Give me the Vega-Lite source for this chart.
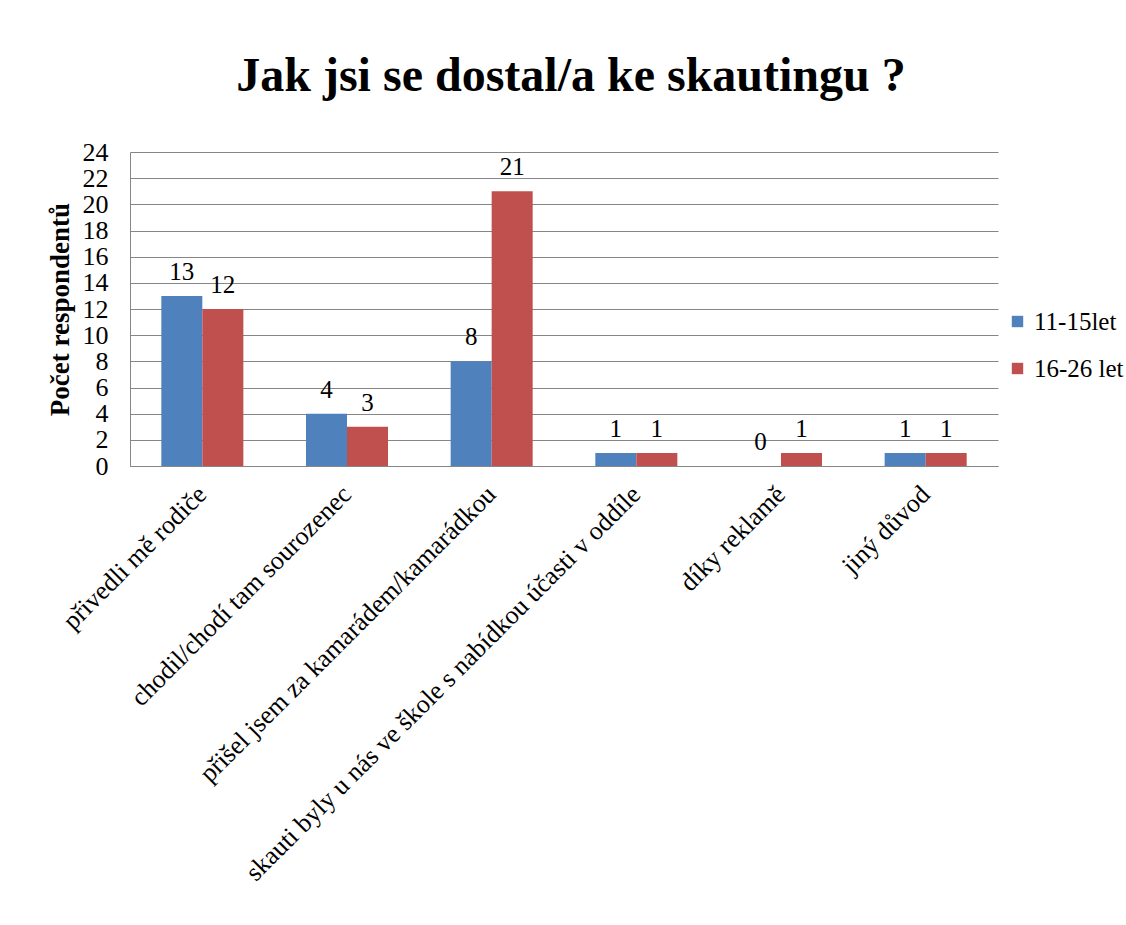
{
  "$schema": "https://vega.github.io/schema/vega-lite/v6.json",
  "width": 868,
  "height": 314,
  "autosize": {"type": "none"},
  "padding": {"left": 130, "top": 152, "right": 128, "bottom": 459},
  "background": "white",
  "config": {
    "view": {"stroke": null},
    "font": "Liberation Serif",
    "text": {"font": "Liberation Serif"}
  },
  "title": {
    "text": "Jak jsi se dostal/a ke skautingu ?",
    "font": "Liberation Serif",
    "fontSize": 48,
    "fontWeight": "bold",
    "color": "black",
    "anchor": "middle",
    "dx": 7,
    "offset": 38
  },
  "data": {
    "values": [
      {"kat": "přivedli mě rodiče", "skupina": "11-15let", "pocet": 13},
      {"kat": "přivedli mě rodiče", "skupina": "16-26 let", "pocet": 12},
      {"kat": "chodil/chodí tam sourozenec", "skupina": "11-15let", "pocet": 4},
      {"kat": "chodil/chodí tam sourozenec", "skupina": "16-26 let", "pocet": 3},
      {"kat": "přišel jsem za kamarádem/kamarádkou", "skupina": "11-15let", "pocet": 8},
      {"kat": "přišel jsem za kamarádem/kamarádkou", "skupina": "16-26 let", "pocet": 21},
      {"kat": "skauti byly u nás ve škole s nabídkou účasti v oddíle", "skupina": "11-15let", "pocet": 1},
      {"kat": "skauti byly u nás ve škole s nabídkou účasti v oddíle", "skupina": "16-26 let", "pocet": 1},
      {"kat": "díky reklamě", "skupina": "11-15let", "pocet": 0},
      {"kat": "díky reklamě", "skupina": "16-26 let", "pocet": 1},
      {"kat": "jiný důvod", "skupina": "11-15let", "pocet": 1},
      {"kat": "jiný důvod", "skupina": "16-26 let", "pocet": 1}
    ]
  },
  "encoding": {
    "x": {
      "field": "kat",
      "type": "nominal",
      "sort": null,
      "scale": {"paddingInner": 0.433, "paddingOuter": 0.2165},
      "axis": {
        "title": null,
        "labelAngle": -45,
        "labelAlign": "right",
        "labelBaseline": "middle",
        "labelFont": "Liberation Serif",
        "labelFontSize": 26,
        "labelColor": "black",
        "labelPadding": 24,
        "labelLimit": 0,
        "ticks": false,
        "domainColor": "#868686",
        "grid": false
      }
    },
    "xOffset": {"field": "skupina", "type": "nominal", "sort": null},
    "y": {
      "field": "pocet",
      "type": "quantitative",
      "scale": {"domain": [0, 24], "nice": false},
      "axis": {
        "title": "Počet respondentů",
        "titleFont": "Liberation Serif",
        "titleFontSize": 27,
        "titleFontWeight": "bold",
        "titleColor": "black",
        "titlePadding": 8,
        "values": [0, 2, 4, 6, 8, 10, 12, 14, 16, 18, 20, 22, 24],
        "labelFont": "Liberation Serif",
        "labelFontSize": 26,
        "labelColor": "black",
        "labelPadding": 22,
        "ticks": false,
        "domainColor": "#868686",
        "gridColor": "#868686",
        "gridWidth": 1.2
      }
    }
  },
  "layer": [
    {
      "mark": {"type": "bar"},
      "encoding": {
        "color": {
          "field": "skupina",
          "type": "nominal",
          "sort": null,
          "scale": {"domain": ["11-15let", "16-26 let"], "range": ["#4F81BD", "#C0504D"]},
          "legend": {
            "title": null,
            "orient": "none",
            "legendX": 875,
            "legendY": 157,
            "symbolType": "square",
            "symbolSize": 130,
            "symbolStrokeWidth": 0,
            "labelFont": "Liberation Serif",
            "labelFontSize": 25,
            "labelColor": "black",
            "labelOffset": 4,
            "labelLimit": 0,
            "rowPadding": 21
          }
        }
      }
    },
    {
      "mark": {"type": "text", "fontSize": 25, "baseline": "alphabetic", "dy": -16, "color": "black", "font": "Liberation Serif"},
      "encoding": {
        "text": {"field": "pocet", "type": "quantitative"}
      }
    }
  ]
}
